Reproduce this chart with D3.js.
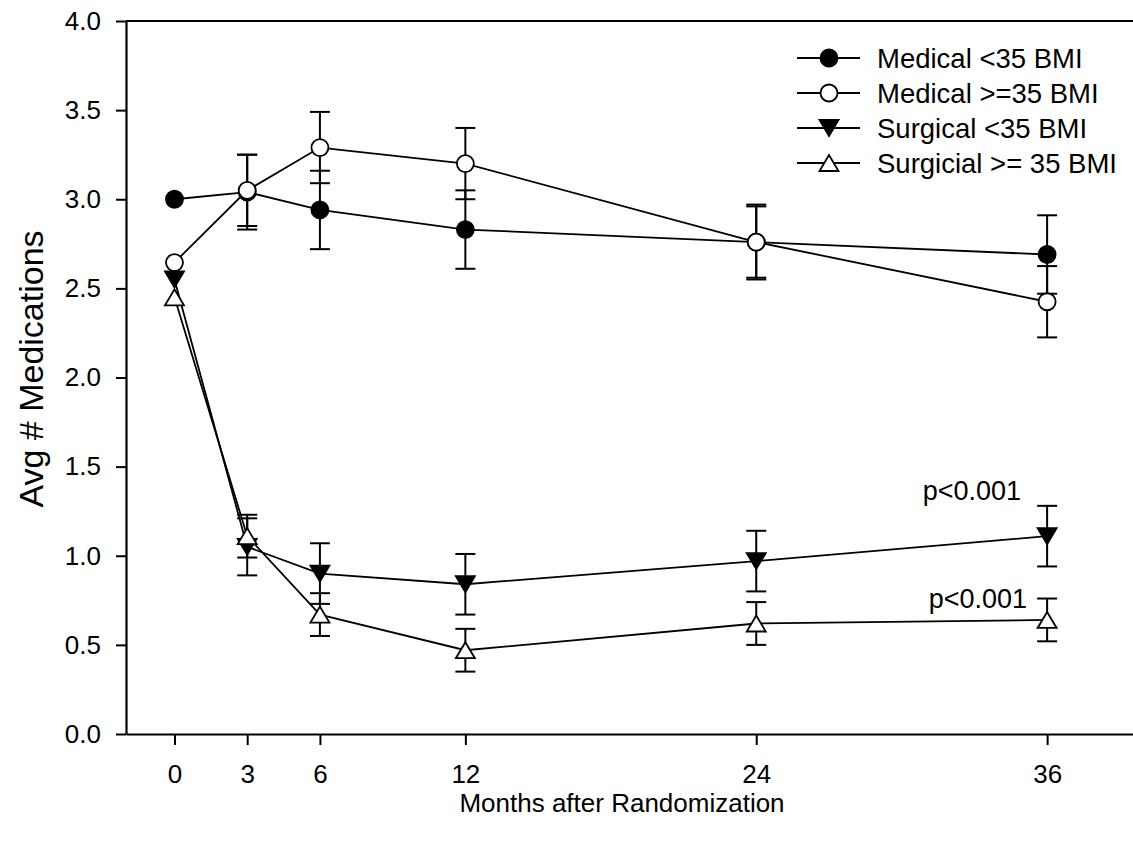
<!DOCTYPE html>
<html>
<head>
<meta charset="utf-8">
<script src="https://cdn.jsdelivr.net/npm/d3@7"></script>
<style>
  body { margin: 0; background: #fff; overflow: hidden; }
  text { font-family: Arial, "Liberation Sans", sans-serif; fill: #000; }
</style>
</head>
<body>
<div id="chart"></div>
<script>
// Data
const months = [0, 3, 6, 12, 24, 36];
const yTicks = [0, 0.5, 1, 1.5, 2, 2.5, 3, 3.5, 4];

const medLow = [3.00, 3.04, 2.94, 2.83, 2.76, 2.69];
const medLowErr = [0, 0.21, 0.22, 0.22, 0.21, 0.22];
const medHigh = [2.645, 3.05, 3.29, 3.20, 2.76, 2.425];
const medHighErr = [0, 0.20, 0.20, 0.20, 0.20, 0.20];
const surLow = [2.55, 1.05, 0.90, 0.84, 0.97, 1.11];
const surLowErr = [0, 0.16, 0.17, 0.17, 0.17, 0.17];
const surHigh = [2.45, 1.11, 0.67, 0.47, 0.62, 0.64];
const surHighErr = [0, 0.12, 0.12, 0.12, 0.12, 0.12];

const seriesNames = ["Medical <35 BMI", "Medical >=35 BMI", "Surgical <35 BMI", "Surgicial >= 35 BMI"];

const width = 1133;
const height = 848;
const margin = {top: 21, left: 126, bottom: 114};

const x = d3.scaleLinear().domain([-2, 40]).range([margin.left, margin.left + 42 * 24.24]);
const y = d3.scaleLinear().domain([0, 4]).range([height - margin.bottom, margin.top]);

const svg = d3.select("#chart").append("svg")
  .attr("width", width)
  .attr("height", height);

// Axes
const xAxis = svg.append("g")
  .attr("transform", `translate(0,${y(0)})`)
  .call(d3.axisBottom(x).tickValues(months).tickSize(11).tickSizeOuter(0).tickPadding(20));
const yAxis = svg.append("g")
  .attr("transform", `translate(${x(-2)},0)`)
  .call(d3.axisLeft(y).tickValues(yTicks).tickFormat(d3.format(".1f")).tickSize(10).tickSizeOuter(0).tickPadding(15));

// top frame line
svg.append("line")
  .attr("x1", x(-2)).attr("x2", x(40))
  .attr("y1", y(4)).attr("y2", y(4))
  .attr("stroke", "#000").attr("stroke-width", 2);

[xAxis, yAxis].forEach(a => {
  a.select(".domain").attr("stroke-width", 2.2);
  a.selectAll(".tick line").attr("stroke-width", 2);
  a.selectAll(".tick text").style("font-size", "26px").attr("fill", "#000");
});

// axis titles
svg.append("text")
  .attr("x", 622).attr("y", 812)
  .attr("text-anchor", "middle")
  .style("font-size", "26px")
  .text("Months after Randomization");

svg.append("text")
  .attr("transform", `translate(43,369) rotate(-90)`)
  .attr("text-anchor", "middle")
  .style("font-size", "34px")
  .text("Avg # Medications");

const series = [
  {name: seriesNames[0], values: medLow, err: medLowErr, shape: "circle", fill: "#000"},
  {name: seriesNames[1], values: medHigh, err: medHighErr, shape: "circle", fill: "#fff"},
  {name: seriesNames[2], values: surLow, err: surLowErr, shape: "down", fill: "#000"},
  {name: seriesNames[3], values: surHigh, err: surHighErr, shape: "up", fill: "#fff"}
];

function drawMarker(g, s, cx, cy) {
  if (s.shape === "circle") {
    g.append("circle").attr("cx", cx).attr("cy", cy).attr("r", 8.5)
      .attr("fill", s.fill).attr("stroke", "#000").attr("stroke-width", 1.8);
  } else {
    const h = 16, w = 19;
    const pts = s.shape === "down"
      ? [[cx - w / 2, cy - h / 2], [cx + w / 2, cy - h / 2], [cx, cy + h / 2]]
      : [[cx - w / 2, cy + h / 2], [cx + w / 2, cy + h / 2], [cx, cy - h / 2]];
    g.append("polygon").attr("points", pts.map(p => p.join(",")).join(" "))
      .attr("fill", s.fill).attr("stroke", "#000").attr("stroke-width", 1.8);
  }
}

const line = d3.line().x(d => x(d[0])).y(d => y(d[1]));

// error bars
const errG = svg.append("g").attr("stroke", "#000").attr("stroke-width", 2);
series.forEach(s => {
  months.forEach((m, i) => {
    const e = s.err[i];
    if (!e) return;
    const cx = x(m);
    errG.append("line").attr("x1", cx).attr("x2", cx).attr("y1", y(s.values[i] - e)).attr("y2", y(s.values[i] + e));
    [s.values[i] - e, s.values[i] + e].forEach(v => {
      errG.append("line").attr("x1", cx - 10).attr("x2", cx + 10).attr("y1", y(v)).attr("y2", y(v));
    });
  });
});

// lines
series.forEach(s => {
  svg.append("path")
    .datum(months.map((m, i) => [m, s.values[i]]))
    .attr("fill", "none").attr("stroke", "#000").attr("stroke-width", 1.8)
    .attr("d", line);
});

// markers
const markG = svg.append("g");
series.forEach(s => {
  months.forEach((m, i) => drawMarker(markG, s, x(m), y(s.values[i])));
});

// p-value annotations
svg.append("text").attr("x", x(36) - 26).attr("y", y(1.31))
  .attr("text-anchor", "end").style("font-size", "27px").text("p<0.001");
svg.append("text").attr("x", x(36) - 20).attr("y", y(0.705))
  .attr("text-anchor", "end").style("font-size", "27px").text("p<0.001");

// legend
const legend = svg.append("g");
series.forEach((s, i) => {
  const ly = 58 + i * 35;
  legend.append("line").attr("x1", 797).attr("x2", 860).attr("y1", ly).attr("y2", ly)
    .attr("stroke", "#000").attr("stroke-width", 1.8);
  drawMarker(legend, s, 829, ly);
  legend.append("text").attr("x", 877).attr("y", ly).attr("dy", "0.36em")
    .style("font-size", "27.5px").text(s.name);
});
</script>
</body>
</html>
